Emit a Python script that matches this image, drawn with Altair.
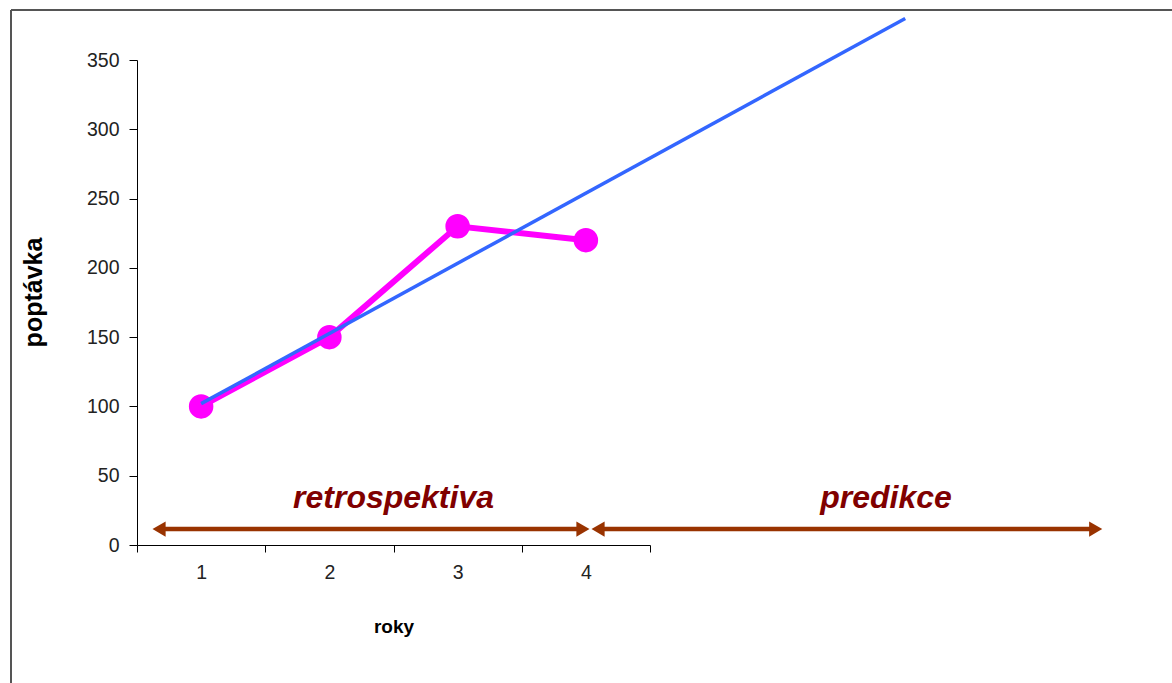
import altair as alt
import pandas as pd

# Observed demand (pink series)
years = [1, 2, 3, 4]
demand = [100, 150, 230, 220]

# Trend line (blue), drawn from year 1 into the prediction zone
trend_x = [1.0, 6.49]
trend_y = [102, 380]

# Axis tick values
y_ticks = [0, 50, 100, 150, 200, 250, 300, 350]
x_ticks = [0.5, 1, 1.5, 2, 2.5, 3, 3.5, 4, 4.5]

# Annotation arrows (data units) and labels
arrow_from = [0.672, 4.095]
arrow_to = [3.977, 7.975]
arrow_level = [11.5, 11.5]
head_x = [0.672, 3.977, 4.095, 7.975]
head_shape = ["triangle-left", "triangle-right", "triangle-left", "triangle-right"]
head_level = [11.5, 11.5, 11.5, 11.5]
label_text = ["retrospektiva", "predikce"]
label_x = [2.5, 6.34]
label_y = [34, 34]

FONT = "Liberation Sans"
BROWN = "#993300"

obs = pd.DataFrame({"rok": years, "poptavka": demand})
trend = pd.DataFrame({"rok": trend_x, "poptavka": trend_y})
arrows = pd.DataFrame({"x1": arrow_from, "x2": arrow_to, "y": arrow_level})
heads = pd.DataFrame({"x": head_x, "shape": head_shape, "y": head_level})
labels = pd.DataFrame({"t": label_text, "x": label_x, "y": label_y})

xscale = alt.Scale(domain=[0.5, 4.5], nice=False, zero=False)
yscale = alt.Scale(domain=[0, 350], nice=False, zero=True)

x_axis = alt.Axis(
    values=x_ticks,
    labelExpr="datum.value % 1 === 0 ? datum.value : ''",
    tickOpacity={"condition": {"test": "datum.value % 1 === 0", "value": 0}, "value": 1},
    tickSize=7,
    labelPadding=11,
    labelOverlap=False,
    labelFlush=False,
    title="roky",
    titleFontSize=19,
    titleFontWeight="bold",
    titleY=81,
    titleBaseline="middle",
    grid=False,
)
y_axis = alt.Axis(
    values=y_ticks,
    tickSize=8,
    labelPadding=10,
    title="poptávka",
    titleFontSize=25,
    titleFontWeight="bold",
    titleX=-104,
    titleY=232,
    titleAngle=270,
    titleAlign="center",
    titleBaseline="middle",
    grid=False,
)

base_x = alt.X("rok:Q", scale=xscale, axis=x_axis)
base_y = alt.Y("poptavka:Q", scale=yscale, axis=y_axis)

pink_line = alt.Chart(obs).mark_line(color="#FF00FF", strokeWidth=6, clip=False).encode(x=base_x, y=base_y)
pink_pts = alt.Chart(obs).mark_circle(color="#FF00FF", size=600, opacity=1, clip=False).encode(x="rok:Q", y="poptavka:Q")
blue = alt.Chart(trend).mark_line(color="#3366FF", strokeWidth=3.5, clip=False).encode(x="rok:Q", y="poptavka:Q")

arrow_lines = alt.Chart(arrows).mark_rule(color=BROWN, strokeWidth=4.5, clip=False).encode(
    x=alt.X("x1:Q"), x2="x2:Q", y=alt.Y("y:Q")
)
arrow_heads = alt.Chart(heads).mark_point(filled=True, color=BROWN, opacity=1, size=230, clip=False).encode(
    x="x:Q", y="y:Q", shape=alt.Shape("shape:N", scale=None)
)
texts = alt.Chart(labels).mark_text(
    font=FONT, fontSize=32, fontWeight="bold", fontStyle="italic", color="#800000",
    align="center", baseline="middle", clip=False
).encode(x="x:Q", y="y:Q", text="t:N")

frame_top = alt.Chart(obs).mark_rule(color="#555555", strokeWidth=2).encode(
    x=alt.value(-126), x2=alt.value(1100), y=alt.value(-50)
)
frame_left = alt.Chart(obs).mark_rule(color="#555555", strokeWidth=2).encode(
    x=alt.value(-126), y=alt.value(-50), y2=alt.value(700)
)

chart = alt.layer(
    pink_line, pink_pts, blue, arrow_lines, arrow_heads, texts, frame_top, frame_left
).properties(
    width=513,
    height=485,
    padding={"left": 137, "top": 60, "right": 522, "bottom": 138},
    autosize=alt.AutoSizeParams(type="none"),
    background="white",
).configure_view(stroke=None).configure_axis(
    labelFont=FONT,
    titleFont=FONT,
    labelFontSize=19.5,
    labelColor="#222222",
    titleColor="#000000",
    domainColor="#000000",
    tickColor="#000000",
    domainWidth=1,
    tickWidth=1,
)

chart.save("out.html", embed_options={"renderer": "svg", "actions": False})
